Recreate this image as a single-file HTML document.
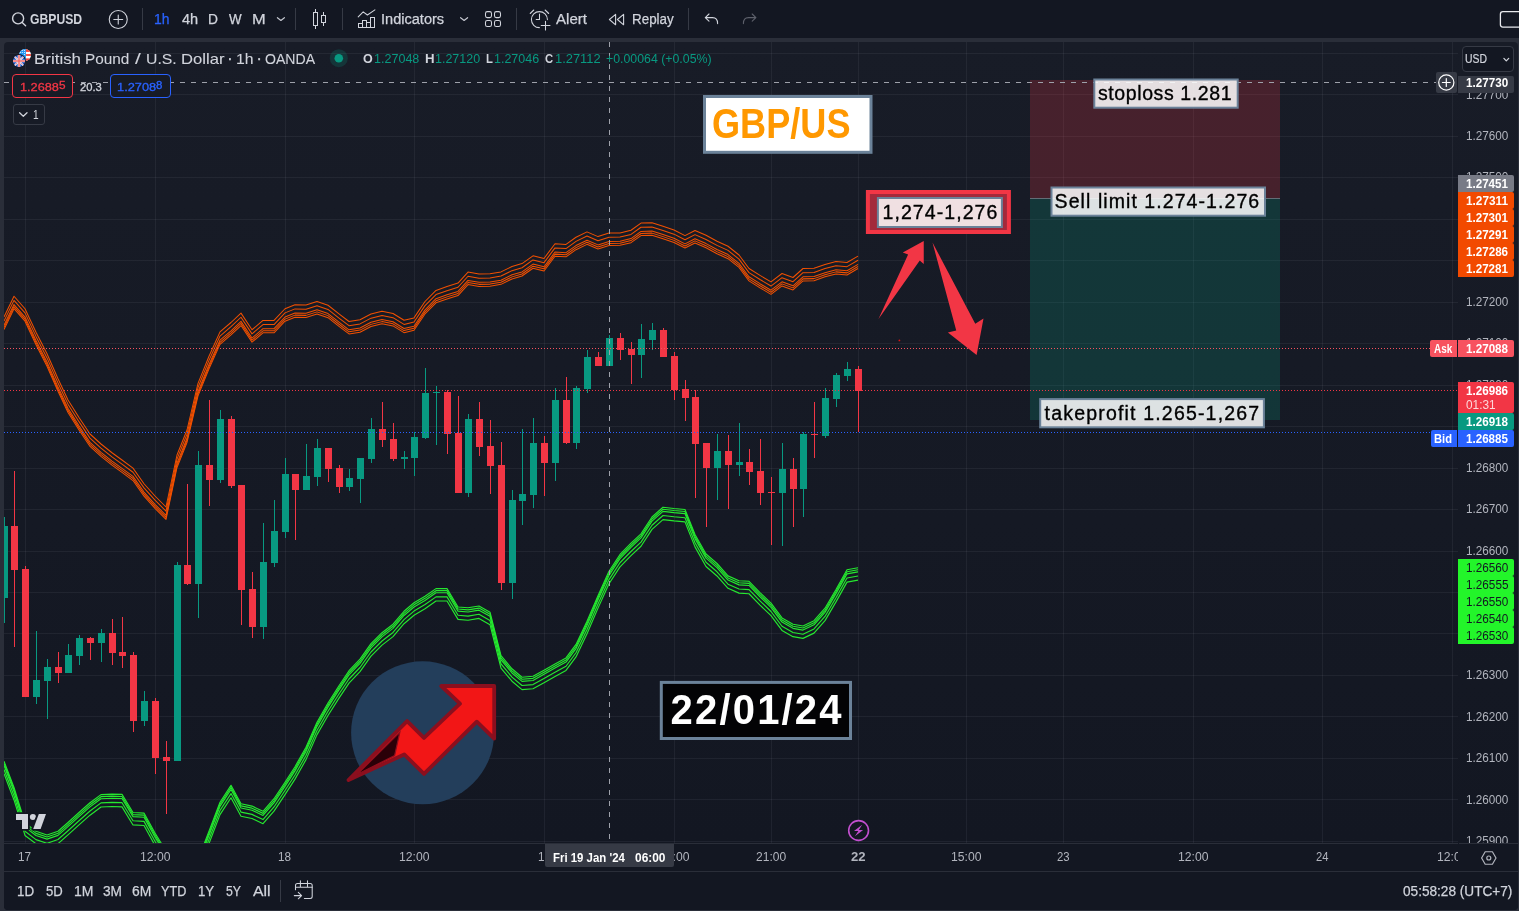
<!DOCTYPE html>
<html lang="en"><head><meta charset="utf-8"><title>GBPUSD chart</title>
<style>
html,body{margin:0;padding:0;background:#2a2e39;}
body{width:1519px;height:911px;position:relative;overflow:hidden;font-family:"Liberation Sans",sans-serif;}
.t{position:absolute;white-space:nowrap;line-height:1;transform-origin:0 50%;}
.abs{position:absolute;}
svg{position:absolute;left:0;top:0;overflow:visible;}
</style></head><body>
<div class="abs" style="left:0px;top:0px;width:1519px;height:38px;background:#131722;"></div>
<div class="abs" style="left:4px;top:42px;width:1514px;height:868px;background:linear-gradient(180deg,#181c27 0px,#131722 801px,#131722 100%);border-radius:4px;"></div>
<div class="abs" style="left:4px;top:843px;width:1514px;height:67px;background:#131722;border-radius:0 0 4px 4px;"></div>
<div class="abs" style="left:4px;top:843px;width:1454px;height:1px;background:#2a2e39;"></div>
<div class="abs" style="left:1459px;top:843px;width:59px;height:1px;background:#2a2e39;"></div>
<div class="abs" style="left:4px;top:871px;width:1514px;height:1px;background:#2a2e39;"></div>
<svg width="1519" height="911" viewBox="0 0 1519 911"><defs><clipPath id="cc"><rect x="4" y="42" width="1454" height="801"/></clipPath></defs><g clip-path="url(#cc)">
<rect x="4" y="841" width="1454" height="1" fill="rgba(240,243,250,0.06)" />
<rect x="4" y="799" width="1454" height="1" fill="rgba(240,243,250,0.06)" />
<rect x="4" y="758" width="1454" height="1" fill="rgba(240,243,250,0.06)" />
<rect x="4" y="716" width="1454" height="1" fill="rgba(240,243,250,0.06)" />
<rect x="4" y="675" width="1454" height="1" fill="rgba(240,243,250,0.06)" />
<rect x="4" y="633" width="1454" height="1" fill="rgba(240,243,250,0.06)" />
<rect x="4" y="592" width="1454" height="1" fill="rgba(240,243,250,0.06)" />
<rect x="4" y="551" width="1454" height="1" fill="rgba(240,243,250,0.06)" />
<rect x="4" y="509" width="1454" height="1" fill="rgba(240,243,250,0.06)" />
<rect x="4" y="468" width="1454" height="1" fill="rgba(240,243,250,0.06)" />
<rect x="4" y="426" width="1454" height="1" fill="rgba(240,243,250,0.06)" />
<rect x="4" y="385" width="1454" height="1" fill="rgba(240,243,250,0.06)" />
<rect x="4" y="343" width="1454" height="1" fill="rgba(240,243,250,0.06)" />
<rect x="4" y="302" width="1454" height="1" fill="rgba(240,243,250,0.06)" />
<rect x="4" y="260" width="1454" height="1" fill="rgba(240,243,250,0.06)" />
<rect x="4" y="219" width="1454" height="1" fill="rgba(240,243,250,0.06)" />
<rect x="4" y="177" width="1454" height="1" fill="rgba(240,243,250,0.06)" />
<rect x="4" y="136" width="1454" height="1" fill="rgba(240,243,250,0.06)" />
<rect x="4" y="94" width="1454" height="1" fill="rgba(240,243,250,0.06)" />
<rect x="4" y="53" width="1454" height="1" fill="rgba(240,243,250,0.06)" />
<rect x="25" y="42" width="1" height="801" fill="rgba(240,243,250,0.06)" />
<rect x="155" y="42" width="1" height="801" fill="rgba(240,243,250,0.06)" />
<rect x="285" y="42" width="1" height="801" fill="rgba(240,243,250,0.06)" />
<rect x="414" y="42" width="1" height="801" fill="rgba(240,243,250,0.06)" />
<rect x="544" y="42" width="1" height="801" fill="rgba(240,243,250,0.06)" />
<rect x="674" y="42" width="1" height="801" fill="rgba(240,243,250,0.06)" />
<rect x="771" y="42" width="1" height="801" fill="rgba(240,243,250,0.06)" />
<rect x="858" y="42" width="1" height="801" fill="rgba(240,243,250,0.06)" />
<rect x="966" y="42" width="1" height="801" fill="rgba(240,243,250,0.06)" />
<rect x="1063" y="42" width="1" height="801" fill="rgba(240,243,250,0.06)" />
<rect x="1193" y="42" width="1" height="801" fill="rgba(240,243,250,0.06)" />
<rect x="1322" y="42" width="1" height="801" fill="rgba(240,243,250,0.06)" />
<rect x="1452" y="42" width="1" height="801" fill="rgba(240,243,250,0.06)" />
<rect x="1030" y="80" width="250" height="118" fill="rgba(242,54,69,0.22)" />
<rect x="1030" y="198" width="250" height="222" fill="rgba(8,153,129,0.22)" />
<rect x="1030" y="198" width="250" height="1" fill="rgba(120,123,134,0.8)" />
<circle cx="422.6" cy="732.8" r="71.5" fill="#233e5b"/>
<path d="M348.5 780L407.1 721.1L424 737.9L460 703.7L441.3 686H494.2V738.6L476.8 721.7L424 773.9L404.2 754.4Z" fill="#f21616" stroke="#8b0f1e" stroke-width="3.8" stroke-linejoin="round"/>
<path d="M357 774.5L399.8 732.4L394.6 755.6Z" fill="#2a0008" stroke="#8b0f1e" stroke-width="1.2"/>
<path d="M4 517h1v106h-1zM1 526h7v72h-7zM36 631h1v73h-1zM33 680h7v17h-7zM47 659h1v60h-1zM44 667h7v14h-7zM68 644h1v29h-1zM65 655h7v18h-7zM79 635h1v30h-1zM76 638h7v18h-7zM101 629h1v33h-1zM98 633h7v10h-7zM144 691h1v35h-1zM141 701h7v20h-7zM177 562h1v199h-1zM174 565h7v196h-7zM198 451h1v167h-1zM195 465h7v119h-7zM220 410h1v73h-1zM217 419h7v61h-7zM263 523h1v116h-1zM260 562h7v65h-7zM274 500h1v67h-1zM271 531h7v32h-7zM285 458h1v80h-1zM282 474h7v58h-7zM306 444h1v46h-1zM303 476h7v14h-7zM317 439h1v47h-1zM314 448h7v29h-7zM349 469h1v22h-1zM346 478h7v9h-7zM360 458h1v45h-1zM357 458h7v21h-7zM371 418h1v45h-1zM368 429h7v30h-7zM404 451h1v18h-1zM401 457h7v2h-7zM414 432h1v44h-1zM411 437h7v21h-7zM425 368h1v71h-1zM422 393h7v45h-7zM436 386h1v59h-1zM433 392h7v1h-7zM468 414h1v83h-1zM465 419h7v74h-7zM512 490h1v109h-1zM509 500h7v83h-7zM522 429h1v96h-1zM519 494h7v7h-7zM533 418h1v90h-1zM530 443h7v52h-7zM555 388h1v93h-1zM552 400h7v63h-7zM576 386h1v63h-1zM573 388h7v55h-7zM587 350h1v43h-1zM584 357h7v32h-7zM609 335h1v31h-1zM606 338h7v28h-7zM641 324h1v54h-1zM638 339h7v16h-7zM652 323h1v27h-1zM649 330h7v10h-7zM717 434h1v66h-1zM714 451h7v17h-7zM739 423h1v53h-1zM736 462h7v3h-7zM782 443h1v103h-1zM779 469h7v24h-7zM803 432h1v85h-1zM800 434h7v55h-7zM825 388h1v50h-1zM822 398h7v38h-7zM836 373h1v34h-1zM833 375h7v24h-7zM847 362h1v19h-1zM844 369h7v7h-7z" fill="#089981" shape-rendering="crispEdges"/><path d="M14 471h1v176h-1zM11 526h7v44h-7zM25 566h1v131h-1zM22 569h7v128h-7zM58 652h1v31h-1zM55 667h7v6h-7zM90 637h1v23h-1zM87 638h7v5h-7zM112 619h1v46h-1zM109 633h7v20h-7zM122 617h1v51h-1zM119 652h7v4h-7zM133 652h1v80h-1zM130 655h7v66h-7zM155 698h1v76h-1zM152 701h7v57h-7zM166 741h1v73h-1zM163 757h7v4h-7zM187 484h1v101h-1zM184 565h7v19h-7zM209 400h1v106h-1zM206 465h7v15h-7zM231 416h1v72h-1zM228 419h7v67h-7zM241 485h1v140h-1zM238 485h7v105h-7zM252 572h1v66h-1zM249 589h7v38h-7zM295 474h1v66h-1zM292 474h7v16h-7zM328 448h1v34h-1zM325 448h7v21h-7zM339 465h1v28h-1zM336 468h7v19h-7zM382 402h1v45h-1zM379 429h7v11h-7zM393 423h1v38h-1zM390 439h7v20h-7zM447 390h1v64h-1zM444 392h7v42h-7zM458 396h1v97h-1zM455 433h7v60h-7zM479 402h1v54h-1zM476 419h7v28h-7zM490 420h1v74h-1zM487 446h7v20h-7zM501 442h1v148h-1zM498 465h7v118h-7zM544 436h1v60h-1zM541 443h7v20h-7zM566 377h1v67h-1zM563 400h7v43h-7zM598 352h1v14h-1zM595 357h7v9h-7zM620 333h1v27h-1zM617 338h7v12h-7zM631 342h1v42h-1zM628 349h7v6h-7zM663 328h1v29h-1zM660 330h7v27h-7zM674 352h1v48h-1zM671 356h7v34h-7zM685 380h1v41h-1zM682 389h7v9h-7zM695 390h1v108h-1zM692 397h7v47h-7zM706 443h1v84h-1zM703 443h7v25h-7zM728 435h1v74h-1zM725 451h7v14h-7zM749 449h1v36h-1zM746 462h7v10h-7zM760 439h1v66h-1zM757 471h7v22h-7zM771 477h1v68h-1zM768 492h7v1h-7zM793 458h1v69h-1zM790 469h7v20h-7zM814 402h1v56h-1zM811 434h7v1h-7zM858 366h1v66h-1zM855 369h7v22h-7z" fill="#f23645" shape-rendering="crispEdges"/>
<polyline points="4.0,317.00 14.0,296.25 25.0,308.75 36.0,332.25 47.0,353.75 58.0,378.80 68.0,400.00 79.0,417.50 90.0,434.00 101.0,444.00 112.0,452.75 122.0,460.00 133.0,468.10 144.0,483.75 155.0,496.00 166.0,507.00 177.0,455.00 187.0,430.00 198.0,383.40 209.0,356.25 220.0,331.90 231.0,322.50 241.0,313.10 252.0,329.75 263.0,320.40 274.0,320.40 285.0,308.75 295.0,304.75 306.0,305.00 317.0,301.50 328.0,305.25 339.0,313.90 349.0,321.50 360.0,319.75 371.0,314.00 382.0,311.25 393.0,313.50 404.0,320.25 414.0,317.90 425.0,301.50 436.0,290.40 447.0,286.50 458.0,283.10 468.0,272.10 479.0,274.00 490.0,273.75 501.0,271.90 512.0,266.50 522.0,263.60 533.0,255.80 544.0,258.50 555.0,243.75 566.0,244.40 576.0,237.25 587.0,231.90 598.0,236.60 609.0,233.10 620.0,232.90 631.0,230.25 641.0,223.10 652.0,222.75 663.0,226.25 674.0,230.00 685.0,235.60 695.0,230.50 706.0,235.30 717.0,241.25 728.0,246.25 739.0,255.00 749.0,268.50 760.0,275.40 771.0,281.90 782.0,273.50 793.0,277.50 803.0,268.50 814.0,268.25 825.0,264.40 836.0,261.50 847.0,262.50 858.0,256.10" fill="none" stroke="#f25000" stroke-width="1.02" stroke-linejoin="round"/><polyline points="4.0,321.15 14.0,300.40 25.0,312.90 36.0,336.40 47.0,357.90 58.0,382.95 68.0,404.15 79.0,421.65 90.0,438.15 101.0,448.15 112.0,456.90 122.0,464.15 133.0,472.25 144.0,487.90 155.0,500.15 166.0,511.15 177.0,459.15 187.0,434.15 198.0,387.55 209.0,360.40 220.0,336.05 231.0,326.65 241.0,317.25 252.0,333.90 263.0,324.55 274.0,324.55 285.0,312.90 295.0,308.90 306.0,309.15 317.0,305.65 328.0,309.40 339.0,318.05 349.0,325.65 360.0,323.90 371.0,318.15 382.0,315.40 393.0,317.65 404.0,324.40 414.0,322.05 425.0,305.65 436.0,294.55 447.0,290.65 458.0,287.25 468.0,276.25 479.0,278.15 490.0,277.90 501.0,276.05 512.0,270.65 522.0,267.75 533.0,259.95 544.0,262.65 555.0,247.90 566.0,248.55 576.0,241.40 587.0,236.05 598.0,240.75 609.0,237.25 620.0,237.05 631.0,234.40 641.0,227.25 652.0,226.90 663.0,230.40 674.0,234.15 685.0,239.75 695.0,234.65 706.0,239.45 717.0,245.40 728.0,250.40 739.0,259.15 749.0,272.65 760.0,279.55 771.0,286.05 782.0,277.65 793.0,281.65 803.0,272.65 814.0,272.40 825.0,268.55 836.0,265.65 847.0,266.65 858.0,260.25" fill="none" stroke="#f25000" stroke-width="1.02" stroke-linejoin="round"/><polyline points="4.0,325.29 14.0,304.54 25.0,317.04 36.0,340.54 47.0,362.04 58.0,387.09 68.0,408.29 79.0,425.79 90.0,442.29 101.0,452.29 112.0,461.04 122.0,468.29 133.0,476.39 144.0,492.04 155.0,504.29 166.0,515.29 177.0,463.29 187.0,438.29 198.0,391.69 209.0,364.54 220.0,340.19 231.0,330.79 241.0,321.39 252.0,338.04 263.0,328.69 274.0,328.69 285.0,317.04 295.0,313.04 306.0,313.29 317.0,309.79 328.0,313.54 339.0,322.19 349.0,329.79 360.0,328.04 371.0,322.29 382.0,319.54 393.0,321.79 404.0,328.54 414.0,326.19 425.0,309.79 436.0,298.69 447.0,294.79 458.0,291.39 468.0,280.39 479.0,282.29 490.0,282.04 501.0,280.19 512.0,274.79 522.0,271.89 533.0,264.09 544.0,266.79 555.0,252.04 566.0,252.69 576.0,245.54 587.0,240.19 598.0,244.89 609.0,241.39 620.0,241.19 631.0,238.54 641.0,231.39 652.0,231.04 663.0,234.54 674.0,238.29 685.0,243.89 695.0,238.79 706.0,243.59 717.0,249.54 728.0,254.54 739.0,263.29 749.0,276.79 760.0,283.69 771.0,290.19 782.0,281.79 793.0,285.79 803.0,276.79 814.0,276.54 825.0,272.69 836.0,269.79 847.0,270.79 858.0,264.39" fill="none" stroke="#f25000" stroke-width="1.02" stroke-linejoin="round"/><polyline points="4.0,327.37 14.0,306.62 25.0,319.12 36.0,342.62 47.0,364.12 58.0,389.17 68.0,410.37 79.0,427.87 90.0,444.37 101.0,454.37 112.0,463.12 122.0,470.37 133.0,478.47 144.0,494.12 155.0,506.37 166.0,517.37 177.0,465.37 187.0,440.37 198.0,393.77 209.0,366.62 220.0,342.27 231.0,332.87 241.0,323.47 252.0,340.12 263.0,330.77 274.0,330.77 285.0,319.12 295.0,315.12 306.0,315.37 317.0,311.87 328.0,315.62 339.0,324.27 349.0,331.87 360.0,330.12 371.0,324.37 382.0,321.62 393.0,323.87 404.0,330.62 414.0,328.27 425.0,311.87 436.0,300.77 447.0,296.87 458.0,293.47 468.0,282.47 479.0,284.37 490.0,284.12 501.0,282.27 512.0,276.87 522.0,273.97 533.0,266.17 544.0,268.87 555.0,254.12 566.0,254.77 576.0,247.62 587.0,242.27 598.0,246.97 609.0,243.47 620.0,243.27 631.0,240.62 641.0,233.47 652.0,233.12 663.0,236.62 674.0,240.37 685.0,245.97 695.0,240.87 706.0,245.67 717.0,251.62 728.0,256.62 739.0,265.37 749.0,278.87 760.0,285.77 771.0,292.27 782.0,283.87 793.0,287.87 803.0,278.87 814.0,278.62 825.0,274.77 836.0,271.87 847.0,272.87 858.0,266.47" fill="none" stroke="#f25000" stroke-width="1.02" stroke-linejoin="round"/><polyline points="4.0,329.44 14.0,308.69 25.0,321.19 36.0,344.69 47.0,366.19 58.0,391.24 68.0,412.44 79.0,429.94 90.0,446.44 101.0,456.44 112.0,465.19 122.0,472.44 133.0,480.54 144.0,496.19 155.0,508.44 166.0,519.44 177.0,467.44 187.0,442.44 198.0,395.84 209.0,368.69 220.0,344.34 231.0,334.94 241.0,325.54 252.0,342.19 263.0,332.84 274.0,332.84 285.0,321.19 295.0,317.19 306.0,317.44 317.0,313.94 328.0,317.69 339.0,326.34 349.0,333.94 360.0,332.19 371.0,326.44 382.0,323.69 393.0,325.94 404.0,332.69 414.0,330.34 425.0,313.94 436.0,302.84 447.0,298.94 458.0,295.54 468.0,284.54 479.0,286.44 490.0,286.19 501.0,284.34 512.0,278.94 522.0,276.04 533.0,268.24 544.0,270.94 555.0,256.19 566.0,256.84 576.0,249.69 587.0,244.34 598.0,249.04 609.0,245.54 620.0,245.34 631.0,242.69 641.0,235.54 652.0,235.19 663.0,238.69 674.0,242.44 685.0,248.04 695.0,242.94 706.0,247.74 717.0,253.69 728.0,258.69 739.0,267.44 749.0,280.94 760.0,287.84 771.0,294.34 782.0,285.94 793.0,289.94 803.0,280.94 814.0,280.69 825.0,276.84 836.0,273.94 847.0,274.94 858.0,268.54" fill="none" stroke="#f25000" stroke-width="1.02" stroke-linejoin="round"/>
<polyline points="4.0,761.25 14.0,787.50 25.0,823.00 36.0,831.30 47.0,835.00 58.0,831.25 68.0,822.50 79.0,812.50 90.0,802.75 101.0,794.60 112.0,794.10 122.0,794.40 133.0,812.50 144.0,813.10 155.0,833.00 166.0,851.00 177.0,870.00 187.0,875.00 198.0,860.00 209.0,831.10 220.0,802.20 231.0,785.30 241.0,803.80 252.0,806.10 263.0,811.30 274.0,798.70 285.0,782.20 295.0,766.70 306.0,747.20 317.0,722.20 328.0,703.00 339.0,685.70 349.0,670.70 360.0,659.20 371.0,643.70 382.0,632.70 393.0,624.20 404.0,611.30 414.0,602.80 425.0,596.30 436.0,588.60 447.0,588.60 458.0,606.95 468.0,607.80 479.0,606.00 490.0,612.20 501.0,655.70 512.0,668.80 522.0,677.20 533.0,676.30 544.0,670.20 555.0,663.95 566.0,657.95 576.0,644.45 587.0,621.30 598.0,595.70 609.0,571.30 620.0,554.45 631.0,543.20 641.0,533.80 652.0,516.95 663.0,507.20 674.0,508.45 685.0,509.45 695.0,534.45 706.0,554.00 717.0,563.50 728.0,575.90 739.0,580.70 749.0,581.30 760.0,592.60 771.0,603.20 782.0,617.95 793.0,624.20 803.0,625.95 814.0,620.70 825.0,608.20 836.0,589.45 847.0,569.70 858.0,567.70" fill="none" stroke="#25e82f" stroke-width="1.15" stroke-linejoin="round"/><polyline points="4.0,763.32 14.0,789.57 25.0,825.07 36.0,833.37 47.0,837.07 58.0,833.32 68.0,824.57 79.0,814.57 90.0,804.82 101.0,796.67 112.0,796.17 122.0,796.47 133.0,814.57 144.0,815.17 155.0,835.07 166.0,853.07 177.0,872.07 187.0,877.07 198.0,862.07 209.0,833.17 220.0,804.27 231.0,787.37 241.0,805.87 252.0,808.17 263.0,813.37 274.0,800.77 285.0,784.27 295.0,768.77 306.0,749.27 317.0,724.27 328.0,705.07 339.0,687.77 349.0,672.77 360.0,661.27 371.0,645.77 382.0,634.77 393.0,626.27 404.0,613.37 414.0,604.87 425.0,598.37 436.0,590.67 447.0,590.67 458.0,609.02 468.0,609.87 479.0,608.07 490.0,614.27 501.0,657.77 512.0,670.87 522.0,679.27 533.0,678.37 544.0,672.27 555.0,666.02 566.0,660.02 576.0,646.52 587.0,623.37 598.0,597.77 609.0,573.37 620.0,556.52 631.0,545.27 641.0,535.87 652.0,519.02 663.0,509.27 674.0,510.52 685.0,511.52 695.0,536.52 706.0,556.07 717.0,565.57 728.0,577.97 739.0,582.77 749.0,583.37 760.0,594.67 771.0,605.27 782.0,620.02 793.0,626.27 803.0,628.02 814.0,622.77 825.0,610.27 836.0,591.52 847.0,571.77 858.0,569.77" fill="none" stroke="#25e82f" stroke-width="1.15" stroke-linejoin="round"/><polyline points="4.0,765.40 14.0,791.65 25.0,827.15 36.0,835.45 47.0,839.15 58.0,835.40 68.0,826.65 79.0,816.65 90.0,806.90 101.0,798.75 112.0,798.25 122.0,798.55 133.0,816.65 144.0,817.25 155.0,837.15 166.0,855.15 177.0,874.15 187.0,879.15 198.0,864.15 209.0,835.25 220.0,806.35 231.0,789.45 241.0,807.95 252.0,810.25 263.0,815.45 274.0,802.85 285.0,786.35 295.0,770.85 306.0,751.35 317.0,726.35 328.0,707.15 339.0,689.85 349.0,674.85 360.0,663.35 371.0,647.85 382.0,636.85 393.0,628.35 404.0,615.45 414.0,606.95 425.0,600.45 436.0,592.75 447.0,592.75 458.0,611.10 468.0,611.95 479.0,610.15 490.0,616.35 501.0,659.85 512.0,672.95 522.0,681.35 533.0,680.45 544.0,674.35 555.0,668.10 566.0,662.10 576.0,648.60 587.0,625.45 598.0,599.85 609.0,575.45 620.0,558.60 631.0,547.35 641.0,537.95 652.0,521.10 663.0,511.35 674.0,512.60 685.0,513.60 695.0,538.60 706.0,558.15 717.0,567.65 728.0,580.05 739.0,584.85 749.0,585.45 760.0,596.75 771.0,607.35 782.0,622.10 793.0,628.35 803.0,630.10 814.0,624.85 825.0,612.35 836.0,593.60 847.0,573.85 858.0,571.85" fill="none" stroke="#25e82f" stroke-width="1.15" stroke-linejoin="round"/><polyline points="4.0,769.54 14.0,795.79 25.0,831.29 36.0,839.59 47.0,843.29 58.0,839.54 68.0,830.79 79.0,820.79 90.0,811.04 101.0,802.89 112.0,802.39 122.0,802.69 133.0,820.79 144.0,821.39 155.0,841.29 166.0,859.29 177.0,878.29 187.0,883.29 198.0,868.29 209.0,839.39 220.0,810.49 231.0,793.59 241.0,812.09 252.0,814.39 263.0,819.59 274.0,806.99 285.0,790.49 295.0,774.99 306.0,755.49 317.0,730.49 328.0,711.29 339.0,693.99 349.0,678.99 360.0,667.49 371.0,651.99 382.0,640.99 393.0,632.49 404.0,619.59 414.0,611.09 425.0,604.59 436.0,596.89 447.0,596.89 458.0,615.24 468.0,616.09 479.0,614.29 490.0,620.49 501.0,663.99 512.0,677.09 522.0,685.49 533.0,684.59 544.0,678.49 555.0,672.24 566.0,666.24 576.0,652.74 587.0,629.59 598.0,603.99 609.0,579.59 620.0,562.74 631.0,551.49 641.0,542.09 652.0,525.24 663.0,515.49 674.0,516.74 685.0,517.74 695.0,542.74 706.0,562.29 717.0,571.79 728.0,584.19 739.0,588.99 749.0,589.59 760.0,600.89 771.0,611.49 782.0,626.24 793.0,632.49 803.0,634.24 814.0,628.99 825.0,616.49 836.0,597.74 847.0,577.99 858.0,575.99" fill="none" stroke="#25e82f" stroke-width="1.15" stroke-linejoin="round"/><polyline points="4.0,773.69 14.0,799.94 25.0,835.44 36.0,843.74 47.0,847.44 58.0,843.69 68.0,834.94 79.0,824.94 90.0,815.19 101.0,807.04 112.0,806.54 122.0,806.84 133.0,824.94 144.0,825.54 155.0,845.44 166.0,863.44 177.0,882.44 187.0,887.44 198.0,872.44 209.0,843.54 220.0,814.64 231.0,797.74 241.0,816.24 252.0,818.54 263.0,823.74 274.0,811.14 285.0,794.64 295.0,779.14 306.0,759.64 317.0,734.64 328.0,715.44 339.0,698.14 349.0,683.14 360.0,671.64 371.0,656.14 382.0,645.14 393.0,636.64 404.0,623.74 414.0,615.24 425.0,608.74 436.0,601.04 447.0,601.04 458.0,619.39 468.0,620.24 479.0,618.44 490.0,624.64 501.0,668.14 512.0,681.24 522.0,689.64 533.0,688.74 544.0,682.64 555.0,676.39 566.0,670.39 576.0,656.89 587.0,633.74 598.0,608.14 609.0,583.74 620.0,566.89 631.0,555.64 641.0,546.24 652.0,529.39 663.0,519.64 674.0,520.89 685.0,521.89 695.0,546.89 706.0,566.44 717.0,575.94 728.0,588.34 739.0,593.14 749.0,593.74 760.0,605.04 771.0,615.64 782.0,630.39 793.0,636.64 803.0,638.39 814.0,633.14 825.0,620.64 836.0,601.89 847.0,582.14 858.0,580.14" fill="none" stroke="#25e82f" stroke-width="1.15" stroke-linejoin="round"/>
<path d="M4 348.5H1430" stroke="#f7525f" stroke-width="1" stroke-dasharray="1 2" fill="none" shape-rendering="crispEdges"/>
<path d="M4 390.5H1458" stroke="#f23645" stroke-width="1" stroke-dasharray="1 2" fill="none" shape-rendering="crispEdges"/>
<path d="M4 432.5H1431" stroke="#2962ff" stroke-width="1" stroke-dasharray="1 2" fill="none" shape-rendering="crispEdges"/>
<path d="M878.5 319L908.1 254.4L902.75 252.5L923.75 241V264L919.75 260.4Z" fill="#f23645"/>
<path d="M932.5 242.5L975.25 323.75L983.5 318.5L976.6 355L947.9 332.5L956.25 330.6Z" fill="#f23645"/>
<circle cx="899.4" cy="340.4" r="0.9" fill="#e01010"/>
<path d="M4 82.5H1436" stroke="#9ea1aa" stroke-width="1" stroke-dasharray="5 6" fill="none" shape-rendering="crispEdges"/>
<path d="M609.5 42V843" stroke="#9ea1aa" stroke-width="1" stroke-dasharray="5 6" fill="none" shape-rendering="crispEdges"/>
<rect x="704.50" y="96.50" width="166.50" height="55.80" fill="#fff" stroke="#6b8299" stroke-width="3"/>
<rect x="867.90" y="192.00" width="141.00" height="40.00" fill="#a32a3b" stroke="#f23645" stroke-width="4"/>
<rect x="877.90" y="198.00" width="124.00" height="29.00" fill="#f0e0e2" stroke="#6b8299" stroke-width="2"/>
<rect x="1094.30" y="79.50" width="143.40" height="28.20" fill="rgba(255,255,255,0.86)" stroke="#6b8299" stroke-width="2"/>
<rect x="1051.50" y="187.50" width="213.50" height="28.20" fill="rgba(255,255,255,0.86)" stroke="#6b8299" stroke-width="2"/>
<rect x="1040.20" y="399.10" width="223.70" height="28.20" fill="rgba(255,255,255,0.86)" stroke="#6b8299" stroke-width="2"/>
<rect x="661.30" y="682.40" width="189.20" height="56.10" fill="#030305" stroke="#6b8299" stroke-width="3"/>
</g></svg>
<span class="t" style="left:712.35px;top:104px;font-size:40px;color:#ff9800;transform:scale(0.9035,1.05);transform-origin:0 34px;font-weight:700;">GBP/US</span>
<span class="t" style="left:882.54px;top:203px;font-size:19.5px;color:#000;letter-spacing:1.071px;-webkit-text-stroke:0.35px #000;">1,274-1,276</span>
<span class="t" style="left:1097.91px;top:84px;font-size:19.5px;color:#000;letter-spacing:0.607px;-webkit-text-stroke:0.35px #000;">stoploss 1.281</span>
<span class="t" style="left:1054.62px;top:192px;font-size:19.5px;color:#000;letter-spacing:1.068px;-webkit-text-stroke:0.35px #000;">Sell limit 1.274-1.276</span>
<span class="t" style="left:1044.61px;top:404px;font-size:19.5px;color:#000;letter-spacing:1.182px;-webkit-text-stroke:0.35px #000;">takeprofit 1.265-1,267</span>
<span class="t" style="left:670.60px;top:690px;font-size:40px;color:#fff;letter-spacing:2.171px;transform:scale(1,1.05);transform-origin:0 34px;font-weight:700;">22/01/24</span>
<span class="t" style="left:29.61px;top:12px;font-size:14px;color:#d1d4dc;transform:scaleX(0.8701);font-weight:700;">GBPUSD</span>
<span class="t" style="left:154.46px;top:12px;font-size:14px;color:#2962ff;transform:scaleX(0.9941);-webkit-text-stroke:0.25px #2962ff;">1h</span>
<span class="t" style="left:181.71px;top:12px;font-size:14px;color:#d1d4dc;transform:scaleX(1.0383);-webkit-text-stroke:0.25px #d1d4dc;">4h</span>
<span class="t" style="left:208.00px;top:12px;font-size:14px;color:#d1d4dc;transform:scaleX(0.9844);-webkit-text-stroke:0.25px #d1d4dc;">D</span>
<span class="t" style="left:229.33px;top:12px;font-size:14px;color:#d1d4dc;transform:scaleX(0.9549);-webkit-text-stroke:0.25px #d1d4dc;">W</span>
<span class="t" style="left:251.69px;top:12px;font-size:14px;color:#d1d4dc;transform:scaleX(1.1727);-webkit-text-stroke:0.25px #d1d4dc;">M</span>
<span class="t" style="left:381.49px;top:12px;font-size:14px;color:#d1d4dc;transform:scaleX(1.0400);-webkit-text-stroke:0.25px #d1d4dc;">Indicators</span>
<span class="t" style="left:556.30px;top:12px;font-size:14px;color:#d1d4dc;transform:scaleX(1.0767);-webkit-text-stroke:0.25px #d1d4dc;">Alert</span>
<span class="t" style="left:631.93px;top:12px;font-size:14px;color:#d1d4dc;transform:scaleX(0.9579);-webkit-text-stroke:0.25px #d1d4dc;">Replay</span>
<span class="t" style="left:34.15px;top:51px;font-size:16px;color:#d1d4dc;transform:scale(1.0575,0.91);transform-origin:0 13px;-webkit-text-stroke:0.1px #d1d4dc;">British</span>
<span class="t" style="left:85.07px;top:51px;font-size:16px;color:#d1d4dc;transform:scale(0.9586,0.91);transform-origin:0 13px;-webkit-text-stroke:0.1px #d1d4dc;">Pound</span>
<span class="t" style="left:134.60px;top:51px;font-size:16px;color:#d1d4dc;transform:scale(1.2946,0.91);transform-origin:0 13px;-webkit-text-stroke:0.1px #d1d4dc;">/</span>
<span class="t" style="left:145.82px;top:51px;font-size:16px;color:#d1d4dc;transform:scale(0.9859,0.91);transform-origin:0 13px;-webkit-text-stroke:0.1px #d1d4dc;">U.S.</span>
<span class="t" style="left:180.67px;top:51px;font-size:16px;color:#d1d4dc;transform:scale(1.0388,0.91);transform-origin:0 13px;-webkit-text-stroke:0.1px #d1d4dc;">Dollar</span>
<span class="t" style="left:227.30px;top:51px;font-size:16px;color:#d1d4dc;-webkit-text-stroke:0.3px currentColor;">·</span>
<span class="t" style="left:236.02px;top:51px;font-size:16px;color:#d1d4dc;transform:scale(0.9858,0.91);transform-origin:0 13px;-webkit-text-stroke:0.1px #d1d4dc;">1h</span>
<span class="t" style="left:256.60px;top:51px;font-size:16px;color:#d1d4dc;-webkit-text-stroke:0.3px currentColor;">·</span>
<span class="t" style="left:264.97px;top:51px;font-size:16px;color:#d1d4dc;transform:scale(0.8796,0.91);transform-origin:0 13px;-webkit-text-stroke:0.1px #d1d4dc;">OANDA</span>
<span class="t" style="left:363.30px;top:53px;font-size:12.5px;color:#d1d4dc;transform:scaleX(1.0014);font-weight:700;">O</span>
<span class="t" style="left:374.16px;top:53px;font-size:12.5px;color:#089981;transform:scaleX(1.0034);">1.27048</span>
<span class="t" style="left:424.84px;top:53px;font-size:12.5px;color:#d1d4dc;transform:scaleX(1.0576);font-weight:700;">H</span>
<span class="t" style="left:435.36px;top:53px;font-size:12.5px;color:#089981;transform:scaleX(0.9974);">1.27120</span>
<span class="t" style="left:485.97px;top:53px;font-size:12.5px;color:#d1d4dc;transform:scaleX(0.9010);font-weight:700;">L</span>
<span class="t" style="left:494.36px;top:53px;font-size:12.5px;color:#089981;transform:scaleX(0.9989);">1.27046</span>
<span class="t" style="left:545.25px;top:53px;font-size:12.5px;color:#d1d4dc;transform:scaleX(0.9038);font-weight:700;">C</span>
<span class="t" style="left:555.03px;top:53px;font-size:12.5px;color:#089981;transform:scaleX(1.0307);">1.27112</span>
<span class="t" style="left:606.38px;top:53px;font-size:12.5px;color:#089981;transform:scaleX(0.9865);">+0.00064 (+0.05%)</span>
<div class="abs" style="left:12px;top:74px;width:61px;height:23.5px;box-sizing:border-box;border:1px solid #f23645;border-radius:4px;background:#171b26;"></div>
<span class="t" style="left:19.74px;top:82px;font-size:11.5px;color:#f23645;transform:scaleX(1.1073);-webkit-text-stroke:0.3px #f23645;">1.2688</span>
<span class="t" style="left:58.93px;top:81px;font-size:10px;color:#f23645;transform:scaleX(1.1789);-webkit-text-stroke:0.3px #f23645;">5</span>
<span class="t" style="left:80.24px;top:82px;font-size:11px;color:#d1d4dc;transform:scaleX(1.0194);-webkit-text-stroke:0.3px #d1d4dc;">20.3</span>
<div class="abs" style="left:110px;top:74px;width:61px;height:23.5px;box-sizing:border-box;border:1px solid #2962ff;border-radius:4px;background:#171b26;"></div>
<span class="t" style="left:117.44px;top:82px;font-size:11.5px;color:#2962ff;transform:scaleX(1.1161);-webkit-text-stroke:0.3px #2962ff;">1.2708</span>
<span class="t" style="left:156.48px;top:81px;font-size:10px;color:#2962ff;transform:scaleX(1.1489);-webkit-text-stroke:0.3px #2962ff;">8</span>
<div class="abs" style="left:13px;top:104px;width:32px;height:21px;box-sizing:border-box;border:1px solid #363a45;border-radius:3px;background:#171b26;"></div>
<span class="t" style="left:33.44px;top:109px;font-size:12px;color:#d1d4dc;transform:scaleX(0.8429);">1</span>
<div class="abs" style="left:0;top:42px;width:1519px;height:801px;overflow:hidden;"><div class="abs" style="left:0;top:-42px;width:1519px;height:911px;"><span class="t" style="left:1465.72px;top:835px;font-size:12px;color:#b2b5be;transform:scaleX(0.9772);">1.25900</span><span class="t" style="left:1465.72px;top:794px;font-size:12px;color:#b2b5be;transform:scaleX(0.9772);">1.26000</span><span class="t" style="left:1465.72px;top:752px;font-size:12px;color:#b2b5be;transform:scaleX(0.9772);">1.26100</span><span class="t" style="left:1465.72px;top:711px;font-size:12px;color:#b2b5be;transform:scaleX(0.9772);">1.26200</span><span class="t" style="left:1465.72px;top:669px;font-size:12px;color:#b2b5be;transform:scaleX(0.9772);">1.26300</span><span class="t" style="left:1465.72px;top:628px;font-size:12px;color:#b2b5be;transform:scaleX(0.9772);">1.26400</span><span class="t" style="left:1465.72px;top:586px;font-size:12px;color:#b2b5be;transform:scaleX(0.9772);">1.26500</span><span class="t" style="left:1465.72px;top:545px;font-size:12px;color:#b2b5be;transform:scaleX(0.9772);">1.26600</span><span class="t" style="left:1465.72px;top:503px;font-size:12px;color:#b2b5be;transform:scaleX(0.9772);">1.26700</span><span class="t" style="left:1465.72px;top:462px;font-size:12px;color:#b2b5be;transform:scaleX(0.9772);">1.26800</span><span class="t" style="left:1465.72px;top:420px;font-size:12px;color:#b2b5be;transform:scaleX(0.9772);">1.26900</span><span class="t" style="left:1465.72px;top:379px;font-size:12px;color:#b2b5be;transform:scaleX(0.9772);">1.27000</span><span class="t" style="left:1465.72px;top:337px;font-size:12px;color:#b2b5be;transform:scaleX(0.9772);">1.27100</span><span class="t" style="left:1465.72px;top:296px;font-size:12px;color:#b2b5be;transform:scaleX(0.9772);">1.27200</span><span class="t" style="left:1465.72px;top:254px;font-size:12px;color:#b2b5be;transform:scaleX(0.9772);">1.27300</span><span class="t" style="left:1465.72px;top:213px;font-size:12px;color:#b2b5be;transform:scaleX(0.9772);">1.27400</span><span class="t" style="left:1465.72px;top:171px;font-size:12px;color:#b2b5be;transform:scaleX(0.9772);">1.27500</span><span class="t" style="left:1465.72px;top:130px;font-size:12px;color:#b2b5be;transform:scaleX(0.9772);">1.27600</span><span class="t" style="left:1465.72px;top:89px;font-size:12px;color:#b2b5be;transform:scaleX(0.9772);">1.27700</span><span class="t" style="left:1465.72px;top:47px;font-size:12px;color:#b2b5be;transform:scaleX(0.9772);">1.27800</span><div class="abs" style="left:1458px;top:76px;width:55.6px;height:16.75px;background:#363a45;border-radius:0 2px 2px 0;"></div><span class="t" style="left:1465.90px;top:77px;font-size:12px;color:#fff;transform:scaleX(0.9720);font-weight:700;">1.27730</span><div class="abs" style="left:1458px;top:175px;width:55.6px;height:16.75px;background:#787b86;border-radius:0 2px 2px 0;"></div><span class="t" style="left:1465.90px;top:178px;font-size:12px;color:#fff;transform:scaleX(0.9679);font-weight:700;">1.27451</span><div class="abs" style="left:1458px;top:191.75px;width:55.6px;height:17px;background:#f24a00;border-radius:0 2px 2px 0;"></div><span class="t" style="left:1465.89px;top:195px;font-size:12px;color:#fff;transform:scaleX(0.9832);font-weight:700;">1.27311</span><div class="abs" style="left:1458px;top:208.75px;width:55.6px;height:17px;background:#f24a00;border-radius:0 2px 2px 0;"></div><span class="t" style="left:1465.90px;top:212px;font-size:12px;color:#fff;transform:scaleX(0.9679);font-weight:700;">1.27301</span><div class="abs" style="left:1458px;top:225.75px;width:55.6px;height:17px;background:#f24a00;border-radius:0 2px 2px 0;"></div><span class="t" style="left:1465.90px;top:229px;font-size:12px;color:#fff;transform:scaleX(0.9679);font-weight:700;">1.27291</span><div class="abs" style="left:1458px;top:242.75px;width:55.6px;height:17px;background:#f24a00;border-radius:0 2px 2px 0;"></div><span class="t" style="left:1465.90px;top:246px;font-size:12px;color:#fff;transform:scaleX(0.9706);font-weight:700;">1.27286</span><div class="abs" style="left:1458px;top:259.75px;width:55.6px;height:17px;background:#f24a00;border-radius:0 2px 2px 0;"></div><span class="t" style="left:1465.90px;top:263px;font-size:12px;color:#fff;transform:scaleX(0.9679);font-weight:700;">1.27281</span><div class="abs" style="left:1458px;top:340px;width:55.6px;height:17px;background:#f7525f;border-radius:0 2px 2px 0;"></div><span class="t" style="left:1465.90px;top:343px;font-size:12px;color:#fff;transform:scaleX(0.9693);font-weight:700;">1.27088</span><div class="abs" style="left:1430px;top:340px;width:26.75px;height:17px;background:#f7525f;border-radius:2px 0 0 2px;"></div><span class="t" style="left:1433.85px;top:343px;font-size:12px;color:#fff;transform:scaleX(0.8287);font-weight:700;">Ask</span><div class="abs" style="left:1458px;top:382px;width:55.6px;height:31px;background:#f23645;border-radius:0 2px 2px 0;"></div><span class="t" style="left:1465.90px;top:385px;font-size:12px;color:#fff;transform:scaleX(0.9706);font-weight:700;">1.26986</span><span class="t" style="left:1465.53px;top:399px;font-size:12px;color:rgba(255,255,255,0.8);transform:scaleX(0.9869);">01:31</span><div class="abs" style="left:1458px;top:413px;width:55.6px;height:17px;background:#089981;border-radius:0 2px 2px 0;"></div><span class="t" style="left:1465.90px;top:416px;font-size:12px;color:#fff;transform:scaleX(0.9693);font-weight:700;">1.26918</span><div class="abs" style="left:1458px;top:430px;width:55.6px;height:16.75px;background:#2962ff;border-radius:0 2px 2px 0;"></div><span class="t" style="left:1465.90px;top:433px;font-size:12px;color:#fff;transform:scaleX(0.9679);font-weight:700;">1.26885</span><div class="abs" style="left:1431px;top:430px;width:25.75px;height:16.75px;background:#2962ff;border-radius:2px 0 0 2px;"></div><span class="t" style="left:1434.28px;top:433px;font-size:12px;color:#fff;transform:scaleX(0.9291);font-weight:700;">Bid</span><div class="abs" style="left:1458px;top:559px;width:55.6px;height:17px;background:#23f52a;border-radius:0 2px 2px 0;"></div><span class="t" style="left:1465.72px;top:562px;font-size:12px;color:#131722;transform:scaleX(0.9772);">1.26560</span><div class="abs" style="left:1458px;top:576px;width:55.6px;height:17px;background:#23f52a;border-radius:0 2px 2px 0;"></div><span class="t" style="left:1465.72px;top:579px;font-size:12px;color:#131722;transform:scaleX(0.9786);">1.26555</span><div class="abs" style="left:1458px;top:593px;width:55.6px;height:17px;background:#23f52a;border-radius:0 2px 2px 0;"></div><span class="t" style="left:1465.72px;top:596px;font-size:12px;color:#131722;transform:scaleX(0.9772);">1.26550</span><div class="abs" style="left:1458px;top:610px;width:55.6px;height:17px;background:#23f52a;border-radius:0 2px 2px 0;"></div><span class="t" style="left:1465.72px;top:613px;font-size:12px;color:#131722;transform:scaleX(0.9772);">1.26540</span><div class="abs" style="left:1458px;top:627px;width:55.6px;height:17px;background:#23f52a;border-radius:0 2px 2px 0;"></div><span class="t" style="left:1465.72px;top:630px;font-size:12px;color:#131722;transform:scaleX(0.9772);">1.26530</span><div class="abs" style="left:1436px;top:72px;width:20.8px;height:20.8px;background:#363a45;border-radius:2px;"></div></div></div>
<div class="abs" style="left:4px;top:843px;width:1454px;height:28px;overflow:hidden;"><div class="abs" style="left:-4px;top:-843px;width:1519px;height:911px;"><span class="t" style="left:18.42px;top:851px;font-size:12px;color:#b2b5be;transform:scaleX(0.9814);">17</span><span class="t" style="left:139.64px;top:851px;font-size:12px;color:#b2b5be;transform:scaleX(1.0146);">12:00</span><span class="t" style="left:278.43px;top:851px;font-size:12px;color:#b2b5be;transform:scaleX(0.9715);">18</span><span class="t" style="left:398.64px;top:851px;font-size:12px;color:#b2b5be;transform:scaleX(1.0146);">12:00</span><span class="t" style="left:538.32px;top:851px;font-size:12px;color:#b2b5be;transform:scaleX(0.9764);">19</span><span class="t" style="left:658.64px;top:851px;font-size:12px;color:#b2b5be;transform:scaleX(1.0146);">12:00</span><span class="t" style="left:755.95px;top:851px;font-size:12px;color:#b2b5be;transform:scaleX(1.0041);">21:00</span><span class="t" style="left:850.84px;top:851px;font-size:12px;color:#b2b5be;transform:scaleX(1.0950);font-weight:700;">22</span><span class="t" style="left:950.64px;top:851px;font-size:12px;color:#b2b5be;transform:scaleX(1.0146);">15:00</span><span class="t" style="left:1056.73px;top:851px;font-size:12px;color:#b2b5be;transform:scaleX(0.9477);">23</span><span class="t" style="left:1177.64px;top:851px;font-size:12px;color:#b2b5be;transform:scaleX(1.0146);">12:00</span><span class="t" style="left:1315.74px;top:851px;font-size:12px;color:#b2b5be;transform:scaleX(0.9385);">24</span><span class="t" style="left:1436.64px;top:851px;font-size:12px;color:#b2b5be;transform:scaleX(1.0146);">12:00</span><div class="abs" style="left:545px;top:844px;width:129px;height:23px;background:#363a45;border-radius:0 0 2px 2px;"></div><span class="t" style="left:552.56px;top:852px;font-size:12px;color:#fff;transform:scaleX(0.9505);font-weight:700;">Fri 19 Jan '24</span><span class="t" style="left:634.52px;top:852px;font-size:12px;color:#fff;transform:scaleX(0.9933);font-weight:700;">06:00</span></div></div>
<span class="t" style="left:17.49px;top:884px;font-size:14px;color:#d1d4dc;transform:scaleX(0.9586);-webkit-text-stroke:0.25px #d1d4dc;">1D</span>
<span class="t" style="left:45.78px;top:884px;font-size:14px;color:#d1d4dc;transform:scaleX(0.9364);-webkit-text-stroke:0.25px #d1d4dc;">5D</span>
<span class="t" style="left:73.65px;top:884px;font-size:14px;color:#d1d4dc;transform:scaleX(0.9988);-webkit-text-stroke:0.25px #d1d4dc;">1M</span>
<span class="t" style="left:103.05px;top:884px;font-size:14px;color:#d1d4dc;transform:scaleX(0.9768);-webkit-text-stroke:0.25px #d1d4dc;">3M</span>
<span class="t" style="left:131.61px;top:884px;font-size:14px;color:#d1d4dc;transform:scaleX(0.9903);-webkit-text-stroke:0.25px #d1d4dc;">6M</span>
<span class="t" style="left:161.18px;top:884px;font-size:14px;color:#d1d4dc;transform:scaleX(0.9030);-webkit-text-stroke:0.25px #d1d4dc;">YTD</span>
<span class="t" style="left:197.81px;top:884px;font-size:14px;color:#d1d4dc;transform:scaleX(0.9460);-webkit-text-stroke:0.25px #d1d4dc;">1Y</span>
<span class="t" style="left:225.81px;top:884px;font-size:14px;color:#d1d4dc;transform:scaleX(0.8744);-webkit-text-stroke:0.25px #d1d4dc;">5Y</span>
<span class="t" style="left:253.00px;top:884px;font-size:14px;color:#d1d4dc;transform:scaleX(1.1278);-webkit-text-stroke:0.25px #d1d4dc;">All</span>
<span class="t" style="left:1402.86px;top:884px;font-size:14px;color:#d1d4dc;transform:scaleX(0.9728);-webkit-text-stroke:0.25px #d1d4dc;">05:58:28 (UTC+7)</span>
<div class="abs" style="left:1462px;top:46px;width:51.6px;height:25.5px;box-sizing:border-box;border:1px solid #363a45;border-radius:4px;background:#131722;"></div>
<span class="t" style="left:1465.22px;top:53px;font-size:12px;color:#d1d4dc;transform:scaleX(0.8668);-webkit-text-stroke:0.2px #d1d4dc;">USD</span>
<svg width="1519" height="911" viewBox="0 0 1519 911" style="pointer-events:none">
<circle cx="18.1" cy="18.4" r="5.5" fill="none" stroke="#d1d4dc" stroke-width="1.4" stroke-linecap="round" stroke-linejoin="round"/><path d="M22.2 22.5L25.6 25.8" fill="none" stroke="#d1d4dc" stroke-width="1.4" stroke-linecap="round" stroke-linejoin="round"/>
<circle cx="118.25" cy="19.5" r="9" fill="none" stroke="#d1d4dc" stroke-width="1.1" stroke-linecap="round" stroke-linejoin="round"/><path d="M113.8 19.5H122.7M118.25 15V24" fill="none" stroke="#d1d4dc" stroke-width="1.1" stroke-linecap="round" stroke-linejoin="round"/>
<rect x="142" y="8" width="1" height="22" fill="#363a45" />
<rect x="295" y="8" width="1" height="22" fill="#363a45" />
<rect x="342" y="8" width="1" height="22" fill="#363a45" />
<rect x="516" y="8" width="1" height="22" fill="#363a45" />
<rect x="688" y="8" width="1" height="22" fill="#363a45" />
<path d="M277.4 17.700000000000003l3.5 2.8l3.5 -2.8" fill="none" stroke="#c5c8d0" stroke-width="1.15" stroke-linecap="round" stroke-linejoin="round"/>
<path d="M313.5 12.5h4v13h-4zM315.5 9v3M315.5 26v3M321.5 15.5h4v7h-4zM323.5 12v3M323.5 23v3" fill="none" stroke="#d1d4dc" stroke-width="1" shape-rendering="crispEdges"/>
<path d="M358.2 16.9L363.2 11.8L367.4 15L374.9 9.9" fill="none" stroke="#d1d4dc" stroke-width="1.05" stroke-linecap="round" stroke-linejoin="round"/><path d="M358.5 27.5V23.5H362.5V27.5M362.5 23.5V20.5H366.5V27.5M366.5 22.5H370.5V27.5M370.5 22.5V17.5H374.5V27.5H358.5" fill="none" stroke="#d1d4dc" stroke-width="1" shape-rendering="crispEdges"/>
<path d="M460.6 17.700000000000003l3.5 2.8l3.5 -2.8" fill="none" stroke="#c5c8d0" stroke-width="1.15" stroke-linecap="round" stroke-linejoin="round"/>
<rect x="485.5" y="11.6" width="6" height="6" rx="1.8" fill="none" stroke="#d1d4dc" stroke-width="1.05" stroke-linecap="round" stroke-linejoin="round"/>
<rect x="494.5" y="11.6" width="6" height="6" rx="1.8" fill="none" stroke="#d1d4dc" stroke-width="1.05" stroke-linecap="round" stroke-linejoin="round"/>
<rect x="485.5" y="20.5" width="6" height="6" rx="1.8" fill="none" stroke="#d1d4dc" stroke-width="1.05" stroke-linecap="round" stroke-linejoin="round"/>
<rect x="494.5" y="20.5" width="6" height="6" rx="1.8" fill="none" stroke="#d1d4dc" stroke-width="1.05" stroke-linecap="round" stroke-linejoin="round"/>
<path d="M547.4 19.6A8 8 0 1 0 539.4 27.6" fill="none" stroke="#d1d4dc" stroke-width="1.05" stroke-linecap="round" stroke-linejoin="round"/><path d="M539.5 14V19.5H536.2" fill="none" stroke="#d1d4dc" stroke-width="1.05" stroke-linecap="round" stroke-linejoin="round"/><path d="M530.2 13.5L533.8 10M545.1 10L548.7 13.5" fill="none" stroke="#d1d4dc" stroke-width="1.05" stroke-linecap="round" stroke-linejoin="round"/><path d="M545.5 21.2V30M541.2 25.5H550" fill="none" stroke="#d1d4dc" stroke-width="1.05" stroke-linecap="round" stroke-linejoin="round"/>
<path d="M615.6 14.3V24.8L609.4 19.5ZM623.6 14.3V24.8L617.4 19.5Z" fill="none" stroke="#d1d4dc" stroke-width="1.1" stroke-linecap="round" stroke-linejoin="round"/>
<path d="M709 14L705.3 17.6L709 21.2M705.3 17.6H712.6Q717.6 17.6 717.6 23.6" fill="none" stroke="#d1d4dc" stroke-width="1.1" stroke-linecap="round" stroke-linejoin="round"/>
<path d="M752.2 14L755.9 17.6L752.2 21.2M755.9 17.6H748.4Q743.4 17.6 743.4 23.6" fill="none" stroke="#5d606b" stroke-width="1.1" stroke-linecap="round" stroke-linejoin="round"/>
<rect x="1500.4" y="11.7" width="22" height="15.4" rx="2.5" fill="none" stroke="#e8e9ed" stroke-width="1.3" stroke-linecap="round" stroke-linejoin="round"/>
<defs><clipPath id="fus"><circle cx="25.1" cy="54.9" r="6"/></clipPath><clipPath id="fuk"><circle cx="19" cy="61" r="6.05"/></clipPath></defs><g clip-path="url(#fus)"><rect x="19" y="48.8" width="12.3" height="12.3" fill="#fff"/><rect x="25.8" y="48.8" width="6" height="3.1" fill="#f44336"/><rect x="25.8" y="54.1" width="6" height="1.8" fill="#f44336"/><rect x="25.8" y="58.4" width="6" height="3" fill="#f44336"/><rect x="19" y="48.8" width="6.9" height="12.3" fill="#2196f3"/><g fill="#fff"><circle cx="22.3" cy="50.5" r="0.55"/><circle cx="24.4" cy="50.5" r="0.55"/><circle cx="20.4" cy="52.5" r="0.55"/><circle cx="22.3" cy="52.5" r="0.55"/><circle cx="24.4" cy="52.5" r="0.55"/><circle cx="24.4" cy="54.5" r="0.55"/></g></g><circle cx="19" cy="61" r="6.9" fill="#171b26"/><g clip-path="url(#fuk)"><rect x="12.8" y="54.8" width="12.5" height="12.5" fill="#1e53c0"/><path d="M12.8 54.8l12.5 12.5M25.3 54.8l-12.5 12.5" stroke="#f6f6fa" stroke-width="1.7"/><path d="M12.8 54.8l12.5 12.5M25.3 54.8l-12.5 12.5" stroke="#f0525c" stroke-width="0.9" stroke-dasharray="1.2 0.8"/><path d="M19 54.8v12.5M12.8 61h12.5" stroke="#f6f6fa" stroke-width="2.7"/><path d="M19 54.8v12.5M12.8 61h12.5" stroke="#f46a6a" stroke-width="1.5"/></g>
<circle cx="338.8" cy="58.2" r="9" fill="rgba(8,153,129,0.2)"/><circle cx="338.8" cy="58.2" r="4.3" fill="#089981"/>
<path d="M19.6 112.8l3.7 3.4l3.7 -3.4" fill="none" stroke="#d1d4dc" stroke-width="1.3" stroke-linecap="round" stroke-linejoin="round"/>
<circle cx="1446.3" cy="82.5" r="7.6" fill="none" stroke="#fff" stroke-width="1.2" stroke-linecap="round" stroke-linejoin="round"/><path d="M1442.4 82.5H1450.2M1446.3 78.6V86.4" fill="none" stroke="#fff" stroke-width="1.2" stroke-linecap="round" stroke-linejoin="round"/>
<polygon points="1496.00,858.00 1492.40,864.24 1485.20,864.24 1481.60,858.00 1485.20,851.76 1492.40,851.76" fill="none" stroke="#b2b5be" stroke-width="1.2" stroke-linecap="round" stroke-linejoin="round"/><circle cx="1488.8" cy="858" r="2" fill="none" stroke="#b2b5be" stroke-width="1.2" stroke-linecap="round" stroke-linejoin="round"/>
<rect x="280" y="880" width="1" height="22" fill="#363a45" />
<path d="M295.5 889.8V885.5Q295.5 883.5 297.5 883.5H310.2Q312.2 883.5 312.2 885.5V896.5Q312.2 898.5 310.2 898.5H304.4" fill="none" stroke="#d1d4dc" stroke-width="1.05" stroke-linecap="round" stroke-linejoin="round"/><path d="M295.5 887.3H312.2M300.4 880.8V887M307.5 880.8V887" fill="none" stroke="#d1d4dc" stroke-width="1.05" stroke-linecap="round" stroke-linejoin="round"/><path d="M294.3 895.6H301.4M298.3 892.4L301.6 895.6L298.3 898.8" fill="none" stroke="#d1d4dc" stroke-width="1.05" stroke-linecap="round" stroke-linejoin="round"/>
<g fill="#d1d4dc" stroke="#131722" stroke-width="3.6" paint-order="stroke" stroke-linejoin="round"><path d="M16 814H28V829H22V820H16Z"/><circle cx="32.9" cy="817" r="3.05"/><path d="M38.8 814H46L40.6 829H33.2Z"/></g>
<circle cx="858.6" cy="830.5" r="9.9" fill="#131722" stroke="#c24fcf" stroke-width="1.6"/><path d="M862.2 824.8L854 830.9H858.4L854.9 836.3L863.1 830.1H858.8Z" fill="#c24fcf"/>
<path d="M1503.9 58.4l2.4 2.5l2.4 -2.5" fill="none" stroke="#d1d4dc" stroke-width="1.25" stroke-linecap="round" stroke-linejoin="round"/>
</svg>
</body></html>
